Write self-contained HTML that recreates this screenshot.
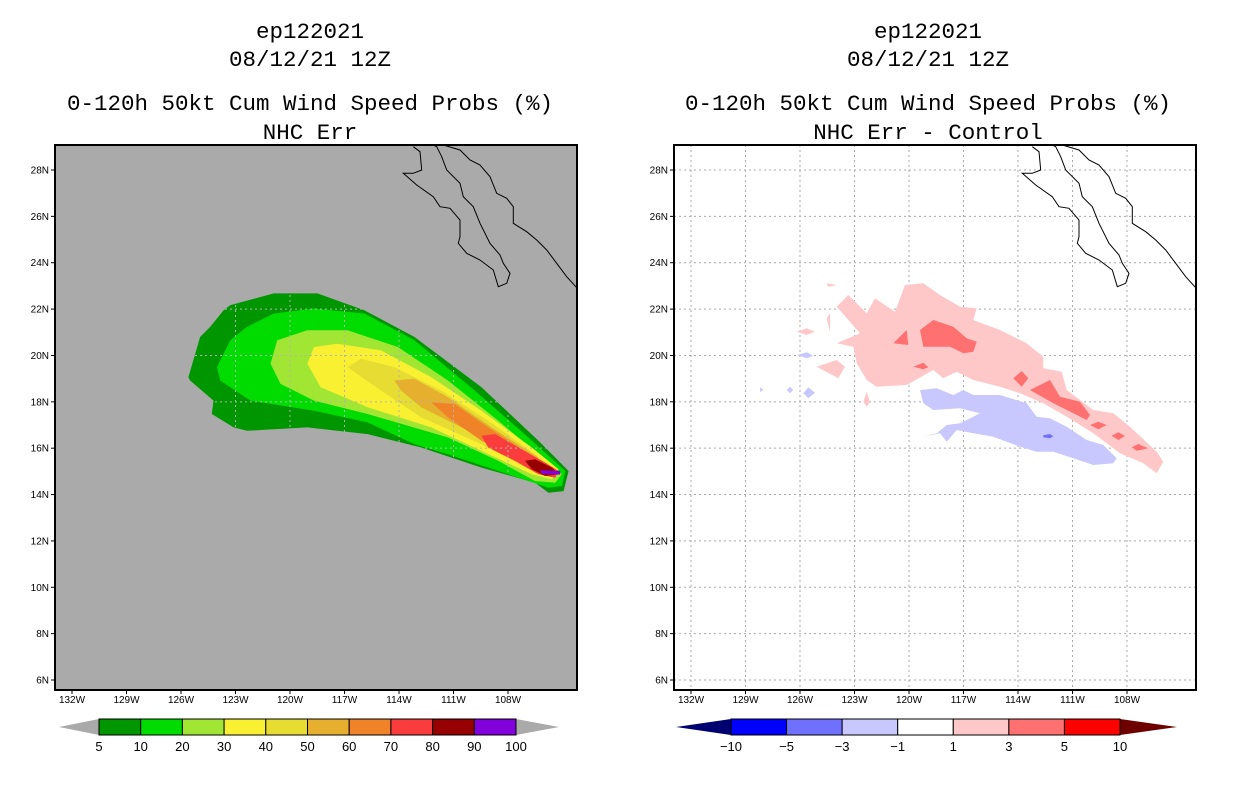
<!DOCTYPE html>
<html><head><meta charset="utf-8">
<style>
body{margin:0;background:#fff;width:1236px;height:800px;overflow:hidden}
svg{display:block}
text{font-family:"Liberation Sans","DejaVu Sans",sans-serif}
.mono{font-family:"Liberation Mono","DejaVu Sans Mono",monospace}
</style></head>
<body>
<svg id="s" width="1236" height="800" viewBox="0 0 1236 800"></svg>
<script>
const latTicks=[6,8,10,12,14,16,18,20,22,24,26,28];
const lonTicks=[132,129,126,123,120,117,114,111,108];
const leftLevels=["5","10","20","30","40","50","60","70","80","90","100"];
const leftColors=["#009600","#00dc00","#a0e632","#faf032","#e6dc32","#e6af2d","#f08228","#fa3c3c","#960000","#8200dc"];
const rightLevels=["-10","-5","-3","-1","1","3","5","10"];
const rightColors=["#0000ff","#7070ff","#c8c8ff","#ffffff","#ffc8c8","#ff7070","#ff0000"];
const plume=[
[[25,290],[60,170],[90,140],[130,90],[150,75],[280,40],[410,40],[550,90],[700,170],[900,320],[1070,480],[1160,570],[1145,630],[1100,635],[1060,605],[900,560],[720,500],[560,460],[380,440],[200,450],[160,440],[95,400],[100,360],[30,300]],
[[110,260],[150,180],[200,140],[280,100],[400,85],[550,100],[700,180],[880,330],[1040,470],[1150,570],[1140,615],[1100,620],[950,570],[800,520],[700,490],[560,425],[400,390],[210,360],[120,300]],
[[270,250],[290,180],[380,150],[500,150],[650,200],[800,300],[950,420],[1080,530],[1140,580],[1120,605],[1060,600],[950,540],[800,470],[560,400],[400,360],[300,310]],
[[380,250],[400,200],[470,190],[600,210],[750,290],[900,390],[1050,500],[1130,565],[1110,595],[1050,580],[900,510],[750,440],[560,380],[420,320]],
[[500,260],[540,235],[640,260],[780,330],[920,420],[1060,520],[1120,570],[1060,575],[900,490],[720,410],[600,330]],
[[640,300],[700,295],[800,350],[930,440],[1070,530],[1050,560],[900,470],[720,380],[660,330]],
[[750,365],[820,370],[920,440],[1060,530],[1040,550],[900,480],[800,410]],
[[900,465],[940,460],[1010,500],[1090,545],[1130,570],[1120,590],[1070,580],[1000,540],[920,500]],
[[1030,540],[1060,535],[1110,560],[1130,580],[1090,585],[1050,565]],
[[1075,568],[1135,570],[1135,581],[1080,579]]
];
const pinkBlobs=[
[[230,110],[265,75],[320,130],[345,85],[405,125],[435,45],[490,40],[540,75],[600,110],[650,115],[640,150],[720,180],[800,220],[850,260],[850,295],[905,305],[920,360],[1000,420],[1060,430],[1110,470],[1190,545],[1210,575],[1190,610],[1150,580],[1080,550],[1000,490],[920,440],[850,400],[780,370],[720,350],[640,330],[590,305],[550,325],[520,300],[440,345],[350,350],[320,330],[290,280],[280,230],[230,220],[300,190]],
[[110,185],[140,175],[165,185],[140,195]],
[[170,290],[230,270],[255,290],[235,325]],
[[320,365],[330,395],[320,410],[310,395]],
[[200,145],[210,130],[210,185]],
[[200,40],[230,45],[205,50]]
];
const redBlobs=[
[[400,220],[440,180],[445,225]],
[[480,180],[520,150],[580,170],[620,205],[650,215],[640,245],[610,250],[570,230],[490,230]],
[[460,290],[490,278],[505,292],[490,298]],
[[760,325],[785,303],[805,325],[785,350]],
[[810,360],[870,330],[900,380],[960,395],[990,435],[980,450],[940,430],[880,400]],
[[990,465],[1015,455],[1040,465],[1015,478]],
[[1055,497],[1075,487],[1095,498],[1075,510]],
[[1115,532],[1135,522],[1165,535],[1130,542]]
];
const blueBlobs=[
[[480,360],[530,355],[580,375],[610,360],[640,375],[720,375],[800,400],[830,440],[870,445],[920,470],[980,510],[1030,525],[1070,565],[1060,580],[1000,585],[940,565],[880,545],[830,545],[780,530],[740,515],[700,500],[640,490],[590,480],[560,515],[540,490],[490,500],[530,490],[560,465],[600,460],[640,440],[660,430],[600,415],[520,420],[490,400]],
[[110,255],[140,247],[160,257],[140,265]],
[[130,370],[145,352],[165,368],[145,385]],
[[80,360],[90,350],[100,360],[90,370]],
[[0,352],[10,360],[0,366]]
];
const darkBlueBlobs=[[[850,496],[870,492],[880,499],[870,505],[850,502]]];
const coastBaja=[[100,20],[120,35],[125,90],[100,100],[70,100],[110,135],[160,170],[180,200],[210,205],[240,240],[240,290],[235,310],[260,340],[300,360],[340,390],[355,440],[380,430],[390,400],[370,370],[360,345],[330,310],[300,250],[280,200],[250,170],[240,130],[200,90],[185,50],[170,20],[160,15]];
const coastMain=[[190,15],[240,30],[270,60],[300,75],[330,110],[350,160],[380,175],[400,200],[400,250],[440,275],[470,300],[500,330],[530,370],[560,410],[592,445]];

const NS="http://www.w3.org/2000/svg";
const svg=document.getElementById('s');
function el(tag,attrs,parent){const e=document.createElementNS(NS,tag);for(const k in attrs)e.setAttribute(k,attrs[k]);(parent||svg).appendChild(e);return e;}
function pts(arr,ox,oy,sc){return arr.map(p=>(ox+p[0]/sc).toFixed(1)+','+(oy+p[1]/sc).toFixed(1)).join(' ');}

function panel(off,isLeft){
  const X0=55+off,Y0=145,W=522,H=545;
  const xL=lon=>72+off+(132-lon)*(436/24);
  const yL=lat=>680-(lat-6)*(510/22);
  const g=el('g',{});
  
  
  const cid='clip'+off;
  const cp=el('clipPath',{id:cid},g);el('rect',{x:X0,y:Y0,width:W,height:H},cp);
  const bg=el('rect',{x:X0,y:Y0,width:W,height:H,fill:isLeft?'#aaaaaa':'#ffffff'},g);
  
  
  const inner=el('g',{'clip-path':'url(#'+cid+')'},g);
  if(isLeft){
    plume.forEach((poly,i)=>{
      const p=el('polygon',{points:pts(poly,180,280,2.985),fill:leftColors[i]},inner);
      
      
    });
    const pc=el('clipPath',{id:'plumeclip'},g);
    el('polygon',{points:pts(plume[0],180,280,2.985)},pc);
    const gg=el('g',{'clip-path':'url(#plumeclip)'},inner);
    lonTicks.forEach(l=>el('line',{x1:xL(l),x2:xL(l),y1:Y0,y2:Y0+H,stroke:'#b4b4b4','stroke-width':1,'stroke-dasharray':'2,3'},gg));
    latTicks.forEach(l=>el('line',{x1:X0,x2:X0+W,y1:yL(l),y2:yL(l),stroke:'#b4b4b4','stroke-width':1,'stroke-dasharray':'2,3'},gg));
  }else{
    lonTicks.forEach(l=>el('line',{x1:xL(l),x2:xL(l),y1:Y0,y2:Y0+H,stroke:'#a8a8a8','stroke-width':1,'stroke-dasharray':'2,3'},inner));
    latTicks.forEach(l=>el('line',{x1:X0,x2:X0+W,y1:yL(l),y2:yL(l),stroke:'#a8a8a8','stroke-width':1,'stroke-dasharray':'2,3'},inner));
    const ox=760,oy=270;
    pinkBlobs.forEach(b=>{const p=el('polygon',{points:pts(b,ox,oy,3),fill:'#ffc8c8'},inner);});
    redBlobs.forEach(b=>{const p=el('polygon',{points:pts(b,ox,oy,3),fill:'#ff7070'},inner);});
    blueBlobs.forEach(b=>{const p=el('polygon',{points:pts(b,ox,oy,3),fill:'#c8c8ff'},inner);});
    darkBlueBlobs.forEach(b=>{const p=el('polygon',{points:pts(b,ox,oy,3),fill:'#7070ff'},inner);});
  }
  const c1=el('polyline',{points:pts(coastBaja,380+off,140,3),fill:'none',stroke:'#000','stroke-width':1},inner);
  
  
  const c2=el('polyline',{points:pts(coastMain,380+off,140,3),fill:'none',stroke:'#000','stroke-width':1},inner);
  
  
  const fr=el('rect',{x:X0,y:Y0,width:W,height:H,fill:'none',stroke:'#000','stroke-width':2},g);
  
  
  latTicks.forEach(l=>{
    el('line',{x1:X0-4,x2:X0,y1:yL(l),y2:yL(l),stroke:'#000'},g);
    const t=el('text',{x:X0-6,y:yL(l)+3.5,'font-size':10,'text-anchor':'end'},g);
    t.textContent=l+'N';
    
    
  });
  lonTicks.forEach(l=>{
    el('line',{x1:xL(l),x2:xL(l),y1:Y0+H,y2:Y0+H+4,stroke:'#000'},g);
    const t=el('text',{x:xL(l),y:Y0+H+13,'font-size':10,'text-anchor':'middle'},g);
    t.textContent=l+'W';
    
    
  });
  const cx=X0+W/2-(isLeft?6:7);
  const titles=['ep122021','08/12/21 12Z','0-120h 50kt Cum Wind Speed Probs (%)',isLeft?'NHC Err':'NHC Err - Control'];
  const ty=[38,66,110,139];
  titles.forEach((s,i)=>{
    const t=el('text',{x:cx,y:ty[i],'font-size':22.5,'text-anchor':'middle','class':'mono'},g);
    t.textContent=s;
    
    
  });
}
panel(0,true);
panel(619,false);

(function(){
  const g=el('g',{});
  
  
  const x0=99,x1=516,y0=719,y1=735,n=leftColors.length,w=(x1-x0)/n;
  el('polygon',{points:`${x0},${y0} 59,${(y0+y1)/2} ${x0},${y1}`,fill:'#aaaaaa'},g);
  el('polygon',{points:`${x1},${y0} 559,${(y0+y1)/2} ${x1},${y1}`,fill:'#aaaaaa'},g);
  leftColors.forEach((c,i)=>{const r=el('rect',{x:x0+i*w,y:y0,width:w,height:y1-y0,fill:c,stroke:'#000','stroke-width':1},g);});
  leftLevels.forEach((s,i)=>{const t=el('text',{x:x0+i*w,y:751,'font-size':13,'text-anchor':'middle'},g);t.textContent=s;});
})();
(function(){
  const g=el('g',{});
  
  
  const x0=731,x1=1120,y0=719,y1=735,n=rightColors.length,w=(x1-x0)/n;
  el('polygon',{points:`${x0},${y0} 676,${(y0+y1)/2} ${x0},${y1}`,fill:'#000070'},g);
  el('polygon',{points:`${x1},${y0} 1177,${(y0+y1)/2} ${x1},${y1}`,fill:'#6e0000'},g);
  rightColors.forEach((c,i)=>{const r=el('rect',{x:x0+i*w,y:y0,width:w,height:y1-y0,fill:c,stroke:'#000','stroke-width':1},g);});
  rightLevels.forEach((s,i)=>{const t=el('text',{x:x0+i*w,y:751,'font-size':13,'text-anchor':'middle'},g);t.textContent=s.replace('-','\u2212');});
})();
</script>
</body></html>
